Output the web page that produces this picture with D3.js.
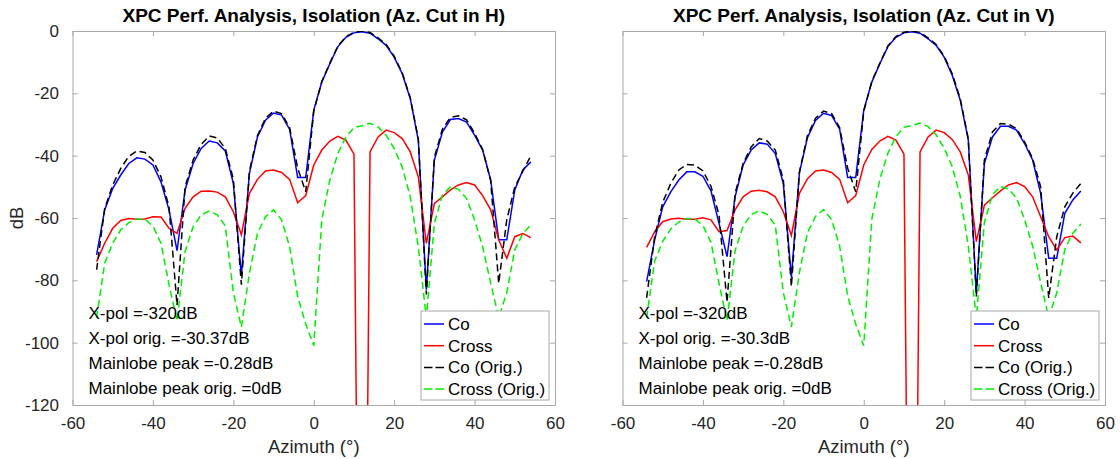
<!DOCTYPE html>
<html>
<head>
<meta charset="utf-8">
<script src="https://cdn.jsdelivr.net/npm/d3@7/dist/d3.min.js"></script>
<style>
  body { margin: 0; background: #fff; }
  svg { display: block; }
</style>
</head>
<body>
<div id="vis-container"></div>
<script>
// azimuth samples (deg)
var azimuth = [-54, -52, -50, -48, -46, -44, -42, -40, -38, -36,
  -34, -32, -30, -28, -26, -24, -22, -20, -18, -16,
  -14, -12, -10, -8, -6, -4, -2, 0, 2, 4,
  6, 8, 10, 12, 14, 16, 18, 20, 22, 24,
  26, 28, 30, 32, 34, 36, 38, 40, 42, 44,
  46, 48, 50, 52, 54]

// Az. cut in H
var coH = [-71.8, -57.4, -50.5, -46.2, -42.5, -40.7, -41.1, -43, -48.4, -57.4,
  -70.5, -51, -42.5, -37.7, -35.3, -35.9, -38.5, -48.9, -78.5, -45.7,
  -34, -28.6, -26.3, -27, -31.6, -47, -47, -25.4, -16.4, -10.5,
  -5, -2, -0.6, -0.28, -0.7, -2.5, -4.6, -8.4, -13.7, -21.7,
  -35, -83, -41.4, -32.4, -28.4, -28.1, -29.2, -33.4, -38.2, -47.8,
  -67, -67, -51, -44.6, -42]
var crossH = [-74, -68.1, -63.3, -60.8, -60.2, -60.4, -60.3, -59.6, -59.7, -63.3,
  -64.9, -56.9, -53.2, -51.4, -51.3, -51.7, -53.2, -58, -65.4, -52.1,
  -47.6, -44.9, -44.6, -45.4, -47.6, -55.1, -52.8, -43, -38.2, -35.3,
  -33.8, -35, -39.5, -320, -38.8, -34, -31.8, -32.6, -34.5, -38.8,
  -46.8, -68.1, -55.3, -53.2, -51, -49.4, -48.6, -49.4, -52.8, -57.4,
  -67, -72.9, -66, -65, -66.3]
var coOrigH = [-76.6, -57, -49.4, -44.1, -40.2, -38.5, -39, -41.4, -46.8, -56.4,
  -88, -50, -41.4, -36.4, -33.7, -34.3, -37.7, -47.5, -81.4, -45,
  -33.5, -28, -25.7, -26.5, -31, -44, -51.6, -25.8, -16.2, -10.3,
  -4.8, -1.8, -0.4, 0, -0.5, -2.2, -4.3, -8.1, -13.4, -21.4,
  -34.5, -84.5, -40.5, -31.5, -27.7, -27.2, -28.5, -32.8, -38, -48,
  -81, -60.6, -50, -45, -40]
var crossOrigH = [-92, -74.5, -68.1, -63.8, -61.5, -60.3, -60.4, -62.6, -68.1, -81.4,
  -93, -70.8, -62.8, -59, -57.8, -59, -62.5, -84, -95, -77.7,
  -64.9, -59.6, -57.4, -60.6, -69.2, -85.2, -94, -101, -60.6, -47.8,
  -39.3, -34, -31, -30.37, -29.6, -30.8, -33.4, -37.7, -43.6, -53.2,
  -69.2, -92, -61.7, -52.6, -50, -50.8, -53.7, -60.6, -69.2, -80.9,
  -92, -84, -70.2, -65, -62.2]

// Az. cut in V
var coV = [-80.4, -67, -56.4, -51.6, -47.8, -45.2, -45.2, -46.6, -51.3, -61.7,
  -72.4, -53.2, -43, -38.2, -35.9, -36.3, -39.3, -49, -79, -45.5,
  -34.2, -28.7, -26.4, -27.1, -31.5, -47, -47, -25.4, -16.4, -10.5,
  -5, -2, -0.6, -0.28, -0.7, -2.5, -4.6, -8.4, -14.2, -22.2,
  -35, -84.1, -42.5, -34, -30.6, -30.6, -31.8, -36.1, -41.4, -52.1,
  -72.9, -72.9, -58.5, -54.2, -51.3]
var crossV = [-69.4, -64.4, -61.2, -60.3, -60.1, -60.4, -60.4, -59.9, -60.6, -64.4,
  -64, -57.4, -53.2, -51.4, -51.1, -51.6, -53.2, -58, -65.6, -52.1,
  -47.4, -44.9, -44.6, -45.4, -47.6, -55.1, -52.8, -43, -38, -35.3,
  -33.8, -35, -39.5, -320, -38.8, -34, -31.8, -32.6, -34.8, -38.8,
  -46.2, -67.6, -55.9, -53.5, -51.3, -49.4, -48.6, -49.9, -53.2, -59.6,
  -66, -70.2, -66.3, -65.8, -68]
var coOrigV = [-85.6, -66, -55, -48.9, -44.6, -42.8, -43, -44.9, -49.8, -59,
  -87, -52.1, -42.5, -37.2, -34.5, -35.3, -38.2, -47.8, -82, -45.2,
  -33.6, -28, -25.7, -26.5, -31, -44, -51.6, -25.8, -16.2, -10.3,
  -4.8, -1.8, -0.4, 0, -0.5, -2.2, -4.3, -8.1, -13.7, -21.7,
  -34.6, -85.2, -41.4, -32.4, -29.7, -29.9, -31.3, -35.6, -40.9, -50,
  -85.7, -66, -56.4, -52, -48.9]
var crossOrigV = [-92, -73.8, -67.5, -63.5, -61.3, -60.2, -60.3, -62.4, -67.8, -81,
  -93, -70.5, -62.6, -58.9, -57.7, -58.9, -62.3, -84, -95, -77.5,
  -64.7, -59.5, -57.3, -60.5, -69, -85, -94, -101, -60.4, -47.6,
  -39.2, -33.9, -30.9, -30.3, -29.5, -30.7, -33.3, -37.6, -43.5, -53,
  -69, -92, -61.5, -52.5, -49.9, -50.7, -53.6, -60.5, -69, -80.7,
  -92, -84, -70, -64.9, -61.9]

var xTicks = [-60, -40, -20, 0, 20, 40, 60]
var yTicks = [0, -20, -40, -60, -80, -100, -120]
var legendLabels = ['Co', 'Cross', 'Co (Orig.)', 'Cross (Orig.)']
var titlesTxt = ['XPC Perf. Analysis, Isolation (Az. Cut in H)', 'XPC Perf. Analysis, Isolation (Az. Cut in V)']
var notesH = ['X-pol =-320dB', 'X-pol orig. =-30.37dB', 'Mainlobe peak =-0.28dB', 'Mainlobe peak orig. =0dB']
var notesV = ['X-pol =-320dB', 'X-pol orig. =-30.3dB', 'Mainlobe peak =-0.28dB', 'Mainlobe peak orig. =0dB']

// Variables
var W = 1120, H = 459
var font = '"Liberation Sans", Arial, Helvetica, sans-serif'
var axisColor = '#a8a8a8'
var textColor = '#262626'
var plotTop = 31, plotBottom = 405, pw = 482.5
var plainNum = function (d) { return String(d) }

var styles = [
  { color: '#0000ff', dash: null },
  { color: '#ff0000', dash: null },
  { color: '#000000', dash: '7,4' },
  { color: '#00ee00', dash: '7,4' }
]

var panels = [
  { left: 72.5, title: titlesTxt[0], series: [coH, crossH, coOrigH, crossOrigH], notes: notesH, yLabels: true, id: 'h' },
  { left: 622.5, title: titlesTxt[1], series: [coV, crossV, coOrigV, crossOrigV], notes: notesV, yLabels: false, id: 'v' }
]

var svg = d3.select('#vis-container').append('svg')
  .attr('width', W)
  .attr('height', H)
  .attr('font-family', font)

panels.forEach(function (p) {
  var xScale = d3.scaleLinear().domain([-60, 60]).range([p.left, p.left + pw])
  var yScale = d3.scaleLinear().domain([-120, 0]).range([plotBottom, plotTop])

  var g = svg.append('g')

  g.append('clipPath').attr('id', 'clip-' + p.id)
    .append('rect')
    .attr('x', p.left).attr('y', plotTop)
    .attr('width', pw).attr('height', plotBottom - plotTop)

  // axes, ticks pointing inward
  var xAxis = d3.axisBottom(xScale).tickValues(xTicks).tickSizeInner(-5).tickSizeOuter(0).tickPadding(12).tickFormat(plainNum)
  var xAxisTop = d3.axisTop(xScale).tickValues(xTicks).tickSizeInner(-5).tickSizeOuter(0).tickFormat('')
  var yAxis = d3.axisLeft(yScale).tickValues(yTicks).tickSizeInner(-5).tickSizeOuter(0).tickPadding(13.5)
    .tickFormat(p.yLabels ? plainNum : '')
  var yAxisRight = d3.axisRight(yScale).tickValues(yTicks).tickSizeInner(-5).tickSizeOuter(0).tickFormat('')

  g.append('g').attr('transform', 'translate(0,' + plotBottom + ')').call(xAxis)
  g.append('g').attr('transform', 'translate(0,' + plotTop + ')').call(xAxisTop)
  g.append('g').attr('transform', 'translate(' + p.left + ',0)').call(yAxis)
  g.append('g').attr('transform', 'translate(' + (p.left + pw) + ',0)').call(yAxisRight)

  g.selectAll('.domain, .tick line').attr('stroke', axisColor).attr('stroke-width', 1)
  g.selectAll('.tick text')
    .attr('fill', textColor)
    .attr('font-size', 17)
    .attr('font-family', font)

  // data lines
  var lines = g.append('g').attr('clip-path', 'url(#clip-' + p.id + ')')
  p.series.forEach(function (vals, k) {
    var line = d3.line()
      .x(function (d, i) { return xScale(azimuth[i]) })
      .y(function (d) { return yScale(d) })
    lines.append('path')
      .datum(vals)
      .attr('d', line)
      .attr('fill', 'none')
      .attr('stroke', styles[k].color)
      .attr('stroke-width', 1.5)
      .attr('stroke-dasharray', styles[k].dash)
  })

  // title
  g.append('text')
    .attr('x', p.left + pw / 2)
    .attr('y', 15)
    .attr('dy', '0.35em')
    .attr('text-anchor', 'middle')
    .attr('font-size', 19)
    .attr('font-weight', 'bold')
    .attr('fill', '#000')
    .text(p.title)

  // x label
  g.append('text')
    .attr('x', p.left + pw / 2)
    .attr('y', 447)
    .attr('dy', '0.35em')
    .attr('text-anchor', 'middle')
    .attr('font-size', 18.5)
    .attr('fill', textColor)
    .text('Azimuth (°)')

  if (p.yLabels) {
    g.append('text')
      .attr('transform', 'translate(17,' + ((plotTop + plotBottom) / 2) + ') rotate(-90)')
      .attr('dy', '0.35em')
      .attr('text-anchor', 'middle')
      .attr('font-size', 18.5)
      .attr('fill', textColor)
      .text('dB')
  }

  // annotation text
  g.selectAll('.note')
    .data(p.notes)
    .enter()
    .append('text')
    .attr('class', 'note')
    .attr('x', p.left + 16)
    .attr('y', function (d, i) { return 313 + i * 25 })
    .attr('dy', '0.35em')
    .attr('font-size', 17)
    .attr('fill', '#000')
    .text(function (d) { return d })

  // legend
  var lx = p.left + pw - 134, ly = 311
  var leg = g.append('g')
  leg.append('rect')
    .attr('x', lx).attr('y', ly)
    .attr('width', 128).attr('height', 89)
    .attr('fill', '#fff')
    .attr('stroke', axisColor)
    .attr('stroke-width', 1)
  legendLabels.forEach(function (lab, k) {
    var cy = ly + 13 + k * 21.7
    leg.append('line')
      .attr('x1', lx + 3).attr('x2', lx + 23)
      .attr('y1', cy).attr('y2', cy)
      .attr('stroke', styles[k].color)
      .attr('stroke-width', 1.5)
      .attr('stroke-dasharray', styles[k].dash ? '8.5,3' : null)
    leg.append('text')
      .attr('x', lx + 27)
      .attr('y', cy)
      .attr('dy', '0.35em')
      .attr('font-size', 17)
      .attr('fill', '#000')
      .text(lab)
  })
})
</script>
</body>
</html>
